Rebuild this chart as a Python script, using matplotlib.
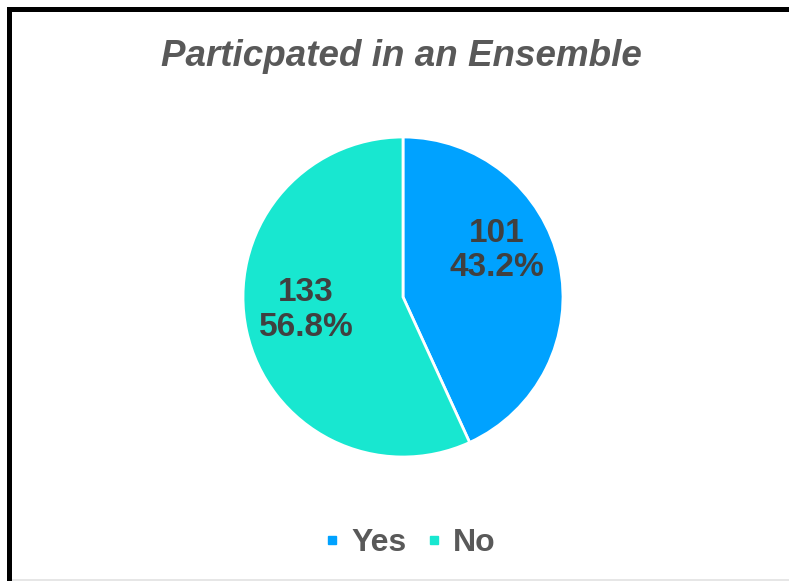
import matplotlib
matplotlib.use("Agg")
import matplotlib.pyplot as plt
from matplotlib.lines import Line2D
from matplotlib.patches import Rectangle

plt.rcParams["font.family"] = ["Liberation Sans", "DejaVu Sans"]

TITLE = "Particpated in an Ensemble"
categories = ["Yes", "No"]
counts = [101, 133]
colors = ["#00A2FF", "#18E7D0"]

W, H = 789, 581
fig = plt.figure(figsize=(W / 100, H / 100), dpi=100)
fig.patch.set_facecolor("white")

# frame: heavy black edge on top and left, faint line at the bottom
fig.add_artist(Rectangle((7 / W, 1 - 12 / H), 1 - 7 / W, 5 / H, transform=fig.transFigure,
                         facecolor="black", edgecolor="none"))
fig.add_artist(Rectangle((7 / W, 0), 5 / W, 1 - 7 / H, transform=fig.transFigure,
                         facecolor="black", edgecolor="none"))
fig.add_artist(Rectangle((12 / W, 0), 1 - 12 / W, 2 / H, transform=fig.transFigure,
                         facecolor="#e6e6e6", edgecolor="none"))

fig.text(401 / W, 1 - 57 / H, TITLE, ha="center", va="center", fontsize=26.5,
         fontstyle="italic", fontweight="bold", color="#595959")

cx, cy, r = 403, 581 - 297, 160
ax = fig.add_axes([(cx - r) / W, (cy - r) / H, 2 * r / W, 2 * r / H])
total = sum(counts)
wedges, _ = ax.pie(counts, colors=colors, startangle=90, counterclock=False,
                   wedgeprops=dict(edgecolor="white", linewidth=2))
ax.set_xlim(-1, 1)
ax.set_ylim(-1, 1)
ax.set_aspect("equal")
ax.axis("off")

label_pos = [(0.585, 0.29), (-0.605, -0.08)]
for n, (x, y) in zip(counts, label_pos):
    ax.text(x, y, f"{n}\n{n / total * 100:.1f}%", ha="center", va="center",
            fontsize=24, fontweight="bold", color="#404040", linespacing=1.15)

handles = [Line2D([], [], marker="s", linestyle="none", markersize=6,
                  markerfacecolor=c, markeredgecolor=c) for c in colors]
fig.legend(handles, categories, loc="center", bbox_to_anchor=(410 / W, 1 - 543 / H),
           ncol=2, frameon=False, handlelength=0.5, handletextpad=0.35, columnspacing=0.6,
           prop=dict(size=23, weight="bold"), labelcolor="#595959")

fig.savefig("out.png", dpi=100, facecolor="white")
